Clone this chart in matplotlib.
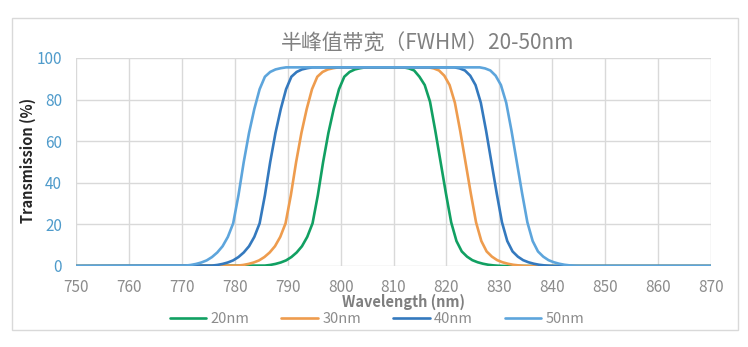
import matplotlib
matplotlib.use('Agg')
import matplotlib.pyplot as plt
from matplotlib.patches import Rectangle

plt.rcParams['font.family'] = ['Noto Sans CJK SC', 'DejaVu Sans']

labels = ['20nm', '30nm', '40nm', '50nm']
colors = ['#11A062', '#EE9C4E', '#3479BE', '#5DA5DC']

# transmission curves (wavelength in nm, transmission in %)
wl_20 = [750, 785.7, 786.7, 787.7, 788.7, 789.7, 790.7, 791.7, 792.7, 793.7, 794.7, 795.7,
         796.7, 797.7, 798.7, 799.7, 800.7, 801.7, 802.7, 803.7, 804.7,
         811.9, 812.9, 813.9, 814.9, 815.9, 816.9, 817.9, 818.9, 819.9, 820.9, 821.9,
         822.9, 823.9, 824.9, 825.9, 826.9, 827.9, 828.9, 829.9, 830.9, 870]
t_20 = [0, 0.2, 0.5, 1, 1.7, 2.7, 4.3, 6.5, 9.5, 14, 20.5, 34,
        50, 64, 75.5, 85, 91, 93.3, 94.5, 95.1, 95.5,
        95.5, 95, 94, 91, 87, 79, 65, 50, 35, 21, 12,
        7, 4.5, 2.8, 1.8, 1.1, 0.6, 0.3, 0.1, 0, 0]

wl_30 = [750, 780.6, 781.6, 782.6, 783.6, 784.6, 785.6, 786.6, 787.6, 788.6, 789.6, 790.6,
         791.6, 792.6, 793.6, 794.6, 795.6, 796.6, 797.6, 798.6, 799.6,
         816.6, 817.6, 818.6, 819.6, 820.6, 821.6, 822.6, 823.6, 824.6, 825.6, 826.6,
         827.6, 828.6, 829.6, 830.6, 831.6, 832.6, 833.6, 834.6, 835.6, 870]
t_30 = [0, 0.2, 0.5, 1, 1.7, 2.7, 4.3, 6.5, 9.5, 14, 20.5, 34,
        50, 64, 75.5, 85, 91, 93.3, 94.5, 95.1, 95.5,
        95.5, 95, 94, 91.5, 87, 78.5, 65, 50, 35, 21, 12,
        7, 4.5, 2.8, 1.8, 1.1, 0.6, 0.3, 0.1, 0, 0]

wl_40 = [750, 775.7, 776.7, 777.7, 778.7, 779.7, 780.7, 781.7, 782.7, 783.7, 784.7, 785.7,
         786.7, 787.7, 788.7, 789.7, 790.7, 791.7, 792.7, 793.7, 794.7,
         821.5, 822.5, 823.5, 824.5, 825.5, 826.5, 827.5, 828.5, 829.5, 830.5, 831.5,
         832.5, 833.5, 834.5, 835.5, 836.5, 837.5, 838.5, 839.5, 840.5, 870]
t_40 = [0, 0.2, 0.5, 1, 1.7, 2.7, 4.3, 6.5, 9.5, 14, 20.5, 34,
        50, 64, 75.5, 85, 91, 93.3, 94.5, 95.1, 95.5,
        95.5, 95, 94, 91.5, 87, 78.5, 65, 50, 35, 21, 12,
        7, 4.5, 2.8, 1.8, 1.1, 0.6, 0.3, 0.1, 0, 0]

wl_50 = [750, 770.7, 771.7, 772.7, 773.7, 774.7, 775.7, 776.7, 777.7, 778.7, 779.7, 780.7,
         781.7, 782.7, 783.7, 784.7, 785.7, 786.7, 787.7, 788.7, 789.7,
         826.3, 827.3, 828.3, 829.3, 830.3, 831.3, 832.3, 833.3, 834.3, 835.3, 836.3,
         837.3, 838.3, 839.3, 840.3, 841.3, 842.3, 843.3, 844.3, 845.3, 870]
t_50 = [0, 0.2, 0.5, 1, 1.7, 2.7, 4.3, 6.5, 9.5, 14, 20.5, 34,
        50, 64, 75.5, 85, 91, 93.3, 94.5, 95.1, 95.5,
        95.5, 95, 94, 91.5, 87, 78.5, 65, 50, 35, 21, 12,
        7, 4.5, 2.8, 1.8, 1.1, 0.6, 0.3, 0.1, 0, 0]

x_ticks = list(range(750, 871, 10))
y_ticks = [0, 20, 40, 60, 80, 100]

fig = plt.figure(figsize=(7.48, 3.47), dpi=100)
ax = fig.add_axes([76 / 748, 1 - 266 / 347, 635 / 748, 208 / 347])

for wl, t, lab, c in zip([wl_20, wl_30, wl_40, wl_50], [t_20, t_30, t_40, t_50], labels, colors):
    ax.plot(wl, t, color=c, lw=1.9, label=lab, solid_capstyle='round', solid_joinstyle='round')

ax.set_xlim(750, 870)
ax.set_ylim(0, 100)
ax.set_xticks(x_ticks)
ax.set_yticks(y_ticks)
ax.grid(True, color='#D9D9D9', lw=1)
ax.set_axisbelow(True)
for s in ax.spines.values():
    s.set_visible(False)
ax.tick_params(axis='x', length=0, pad=9, labelsize=11, labelcolor='#8C8C8C')
ax.tick_params(axis='y', length=0, pad=10, labelsize=11, labelcolor='#4F9BCB')

fig.text(428 / 748, 1 - 43 / 347, '半峰值带宽（FWHM）20-50nm', ha='center', va='center',
         fontsize=15, fontweight='light', color='#808080')
fig.text(403 / 748, 1 - 302 / 347, 'Wavelength (nm)', ha='center', va='center',
         fontsize=10.5, fontweight='bold', color='#7F7F7F')
fig.text(28 / 748, 1 - 160 / 347, 'Transmission (%)', ha='center', va='center',
         rotation=90, fontsize=10.5, fontweight='bold', color='#262626')

fig.legend(loc='center', bbox_to_anchor=(377 / 748, 1 - 319 / 347), ncol=4, frameon=False,
           fontsize=10.5, labelcolor='#8C8C8C', handlelength=2.5, handletextpad=0.3,
           columnspacing=2.2)

fig.patches.append(Rectangle((12 / 748, 1 - 330 / 347), 726 / 748, 312 / 347,
                             transform=fig.transFigure, fill=False, ec='#D9D9D9', lw=1))

fig.savefig('out.png', dpi=100)
